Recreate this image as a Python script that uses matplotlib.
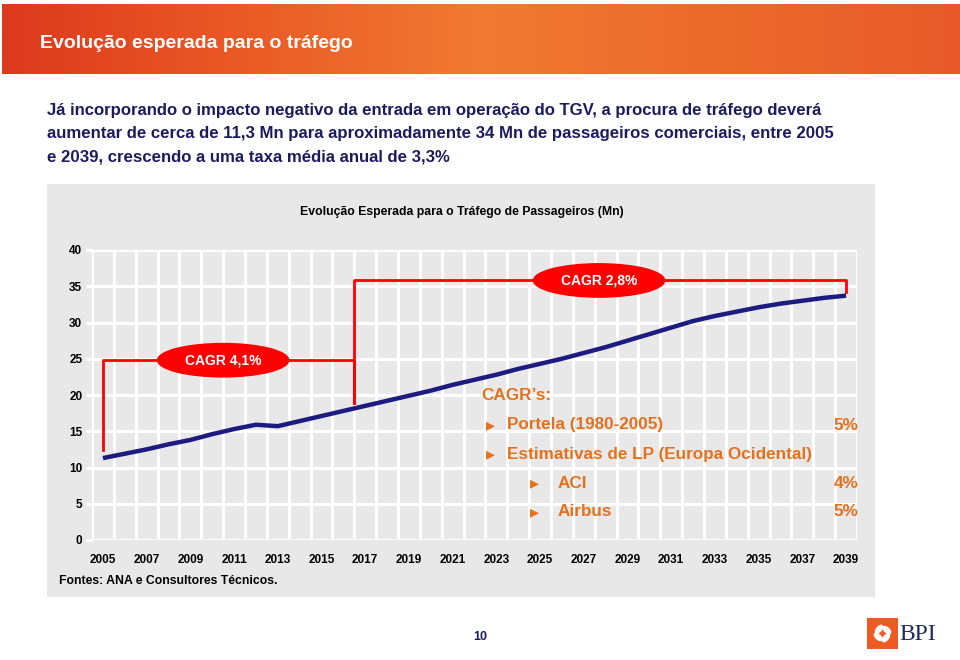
import numpy as np
import matplotlib
matplotlib.use('Agg')
import matplotlib.pyplot as plt
from matplotlib.patches import Rectangle, Ellipse
from matplotlib.colors import LinearSegmentedColormap

plt.rcParams['font.family'] = ['Liberation Sans', 'DejaVu Sans']
plt.rcParams['font.weight'] = 'bold'

# dados (Mn de passageiros)
anos = list(range(2005, 2040))
passageiros = [11.3, 11.9, 12.5, 13.2, 13.8, 14.6, 15.3, 15.9, 15.7, 16.4,
               17.1, 17.8, 18.5, 19.2, 19.9, 20.6, 21.4, 22.1, 22.8, 23.6,
               24.3, 25.0, 25.8, 26.6, 27.5, 28.4, 29.3, 30.2, 30.9, 31.5,
               32.1, 32.6, 33.0, 33.4, 33.7]

# chavetas CAGR
chave1_x = [2005, 2005, 2016.5, 2016.5]
chave1_y = [12.4, 24.8, 24.8, 18.9]
chave2_x = [2016.5, 2016.5, 2039, 2039]
chave2_y = [18.9, 35.8, 35.8, 34.2]
cagr_txt = ['CAGR 4,1%', 'CAGR 2,8%']
cagr_pos = [(2010.5, 24.8), (2027.7, 35.8)]

titulo = 'Evolução esperada para o tráfego'
subtitulo = ['Já incorporando o impacto negativo da entrada em operação do TGV, a procura de tráfego deverá',
             'aumentar de cerca de 11,3 Mn para aproximadamente 34 Mn de passageiros comerciais, entre 2005',
             'e 2039, crescendo a uma taxa média anual de 3,3%']
titulo_grafico = 'Evolução Esperada para o Tráfego de Passageiros (Mn)'
fontes = 'Fontes: ANA e Consultores Técnicos.'

navy = '#1b1b5e'
laranja = '#e5711d'
cinza = '#e8e8e8'

fig = plt.figure(figsize=(9.6, 6.6), dpi=100)
W, H = 960, 660


def fx(x, y):
    return x / W, 1 - y / H


# fundo em coordenadas de pixel
bg = fig.add_axes([0, 0, 1, 1])
bg.set_xlim(0, W)
bg.set_ylim(H, 0)
bg.axis('off')

cmap = LinearSegmentedColormap.from_list('banda', ['#dc3a1e', '#ea5a26', '#f07a32', '#ec6a2c', '#e85a2a'])
grad = np.linspace(0, 1, 400).reshape(1, -1)
bg.imshow(grad, cmap=cmap, extent=(2, 960, 74, 4), aspect='auto')

bg.add_patch(Rectangle((47, 184), 828, 413, color=cinza, lw=0))

# logo BPI
bg.add_patch(Rectangle((867, 618), 31, 31, color='#ee5a24', lw=0))
for ang in [40, 130, 220, 310]:
    r = np.deg2rad(ang)
    bg.add_patch(Ellipse((882.5 + 5.5 * np.cos(r), 633.5 - 5.5 * np.sin(r)), 11, 6,
                         angle=ang, color='white', lw=0))
bg.text(899, 634, 'BPI', family='Liberation Serif', fontsize=17, color='#1d2b5a',
        weight='normal', va='center', ha='left')

# textos
fig.text(*fx(40, 44), titulo, color='white', fontsize=14, va='center')
for i, linha in enumerate(subtitulo):
    fig.text(*fx(47, 110 + i * 23.5), linha, color=navy, fontsize=12.1, va='center')
fig.text(*fx(462, 212), titulo_grafico, color='black', fontsize=8.8, ha='center', va='center')
fig.text(*fx(59, 581), fontes, color='black', fontsize=8.8, va='center')
fig.text(*fx(480, 637), '10', color=navy, fontsize=9, ha='center', va='center')

# gráfico
ax = fig.add_axes([92 / W, 1 - 540 / H, 765 / W, 290 / H], zorder=1)
ax.set_facecolor(cinza)
ax.set_xlim(2004.5, 2039.5)
ax.set_ylim(0, 40)
ax.set_xticks(anos[::2])
ax.set_xticks(np.arange(2004.5, 2040), minor=True)
ax.set_yticks(range(0, 41, 5))
ax.grid(which='minor', axis='x', color='white', lw=2.2)
ax.grid(which='major', axis='y', color='white', lw=2.2)
ax.set_axisbelow(True)
for s in ax.spines.values():
    s.set_visible(False)
ax.tick_params(axis='x', which='both', length=0, pad=10, labelsize=8.5)
ax.tick_params(axis='y', length=4, width=2.2, color='white', pad=3, labelsize=8.5)

ax.plot(anos, passageiros, color='#1c1c80', lw=3.2, zorder=3, solid_capstyle='butt')
ax.plot(chave1_x, chave1_y, color='#ff0000', lw=2, zorder=2, clip_on=False)
ax.plot(chave2_x, chave2_y, color='#ff0000', lw=2, zorder=2, clip_on=False)
for txt, (cx, cy) in zip(cagr_txt, cagr_pos):
    ax.add_patch(Ellipse((cx, cy), 6.0, 4.6, color='#ff0000', zorder=4, clip_on=False))
    ax.text(cx, cy, txt, color='white', fontsize=10, ha='center', va='center', zorder=5)

# caixa CAGR's
fig.text(*fx(481, 396), 'CAGR’s:', color=laranja, fontsize=12.3, va='center')
itens = [(490, 507, 425, 'Portela (1980-2005)', '5%'),
         (490, 507, 454, 'Estimativas de LP (Europa Ocidental)', ''),
         (534, 558, 483, 'ACI', '4%'),
         (534, 558, 512, 'Airbus', '5%')]
for bx, tx, y, txt, pct in itens:
    fig.text(*fx(bx, y), '▸', color=laranja, fontsize=13, va='center', ha='center',
             family='DejaVu Sans')
    fig.text(*fx(tx, y), txt, color=laranja, fontsize=12.3, va='center')
    if pct:
        fig.text(*fx(858, y), pct, color=laranja, fontsize=12.3, va='center', ha='right')

fig.savefig('out.png', dpi=100)
